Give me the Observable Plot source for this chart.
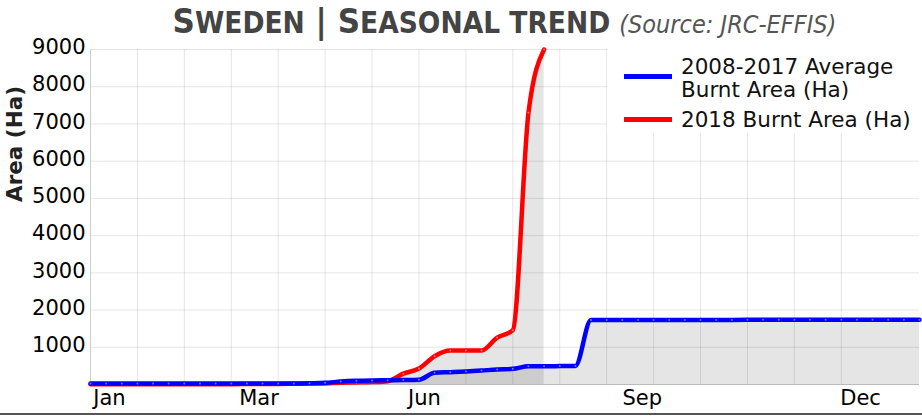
<!DOCTYPE html>
<html>
<head>
<meta charset="utf-8">
<script src="https://cdn.jsdelivr.net/npm/d3@7"></script>
<script src="https://cdn.jsdelivr.net/npm/@observablehq/plot@0.6"></script>
<style>
  html, body { margin: 0; padding: 0; background: #fff; }
  #wrap { position: relative; width: 922px; height: 413px; border-bottom: 2px solid #555; overflow: hidden; }
  #title { position: absolute; left: 90px; top: 1px; width: 829px; height: 40px; line-height: 40px; text-align: center; white-space: nowrap; color: #444; z-index: 2; }
  #title .main { font-family: "DejaVu Sans Condensed", "Liberation Sans Narrow", "DejaVu Sans", sans-serif; font-stretch: condensed; font-weight: bold; }
  #title .big { font-size: 34.5px; }
  #title .sc { font-size: 29.5px; }
  #title .src { font-family: "DejaVu Sans Condensed", "Liberation Sans Narrow", "DejaVu Sans", sans-serif; font-stretch: condensed; font-style: italic; font-size: 25px; color: #555; margin-left: 9px; }
  #chart { position: absolute; left: 0; top: 28px; }
  #legend { position: absolute; left: 607px; top: 49px; width: 313px; height: 84px; background: #fff; font-family: "DejaVu Sans", sans-serif; font-size: 21.5px; color: #111; }
  .sw { position: absolute; left: 17px; width: 48px; height: 5px; }
  .lt { position: absolute; left: 74px; line-height: 23px; white-space: nowrap; }
</style>
</head>
<body>
<div id="wrap">
  <div id="chart"></div>
  <div id="title"><span class="main"><span class="big">S</span><span class="sc">WEDEN</span><span class="big"> | S</span><span class="sc">EASONAL TREND</span></span><span class="src">(Source: JRC-EFFIS)</span></div>
  <div id="legend"></div>
</div>
<script>
// week index of each data point (weekly points through the year)
const weeks = [0,1,2,3,4,5,6,7,8,9,10,11,12,13,14,15,16,17,18,19,20,21,22,23,24,25,26,27,28,29,30,31,32,33,34,35,36,37,38,39,40,41,42,43,44,45,46,47,48,49,50,51,52,53];
// 2008-2017 average cumulative burnt area (Ha)
const avgArea = [30,30,30,30,30,30,30,30,30,30,30,30,30,30,35,45,80,100,110,115,120,128,315,331,350,376,403,420,491,491,495,500,1730,1732,1733,1734,1735,1735,1735,1736,1736,1736,1737,1737,1737,1737,1738,1738,1738,1738,1738,1738,1738,1738];
// 2018 cumulative burnt area (Ha)
const area2018 = [5,5,5,5,5,5,8,10,10,10,12,15,15,20,25,30,45,55,65,90,290,430,760,911,911,915,1260,1460,7300,9000];

const seriesNames = ["2008-2017 Average Burnt Area (Ha)", "2018 Burnt Area (Ha)"];
const seriesColors = ["#0000ff", "#ff0000"];

const monthLabels = ["Jan", "Mar", "Jun", "Sep", "Dec"];
const monthPos = [1.21, 10.77, 21.35, 35.27, 49.23];
const gridWeeks = [0,3,6,9,12,15,18,21,24,27,30,33,36,39,42,45,48];
const yGrid = [1000,2000,3000,4000,5000,6000,7000,8000,9000];
const yTicks = [1000,2000,3000,4000,5000,6000,7000,8000,9000];
const yLabel = "Area (Ha)";

const avgData = weeks.map((w, i) => ({week: w, area: avgArea[i]}));
const redData = area2018.map((a, i) => ({week: weeks[i], area: a}));
const labelByPos = new Map(monthPos.map((p, i) => [p, monthLabels[i]]));

const plot = Plot.plot({
  width: 922,
  height: 385,
  marginLeft: 90,
  marginRight: 3,
  marginTop: 21,
  marginBottom: 29,
  style: {fontFamily: "DejaVu Sans, sans-serif", fontSize: "21px", color: "#000", background: "transparent"},
  x: {domain: [0, 53], label: null},
  y: {domain: [0, 9000], label: null},
  marks: [
    Plot.gridX(gridWeeks, {stroke: "#000", strokeOpacity: 0.1, strokeWidth: 1}),
    Plot.gridY(yGrid, {stroke: "#000", strokeOpacity: 0.1, strokeWidth: 1}),
    Plot.areaY(redData, {x: "week", y: "area", curve: "monotone-x", fill: "#000", fillOpacity: 0.1}),
    Plot.areaY(avgData, {x: "week", y: "area", curve: "monotone-x", fill: "#000", fillOpacity: 0.1}),
    Plot.ruleY([0], {stroke: "#bbb", strokeWidth: 1}),
    Plot.ruleX([0], {stroke: "#ccc", strokeWidth: 1}),
    Plot.lineY(redData, {x: "week", y: "area", curve: "monotone-x", stroke: seriesColors[1], strokeWidth: 4.5}),
    Plot.dot(redData, {x: "week", y: "area", r: 1, fill: "#fff", fillOpacity: 0.45}),
    Plot.lineY(avgData, {x: "week", y: "area", curve: "monotone-x", stroke: seriesColors[0], strokeWidth: 4.5}),
    Plot.dot(avgData, {x: "week", y: "area", r: 1, fill: "#fff", fillOpacity: 0.45}),
    Plot.axisY(yTicks, {tickSize: 0, tickPadding: 5, dy: -2, fontSize: 21, tickFormat: d => String(d)}),
    Plot.axisX(monthPos, {tickSize: 0, tickPadding: 6, fontSize: 21, tickFormat: d => labelByPos.get(d)}),
    Plot.text([yLabel], {frameAnchor: "left", dx: -75, dy: -15, rotate: -90, fontWeight: "bold", fontSize: 21.5, fill: "#222"})
  ]
});
document.getElementById("chart").appendChild(plot);

// legend
const legend = document.getElementById("legend");
const rows = [
  {name: seriesNames[0], color: seriesColors[0], lines: ["2008-2017 Average", "Burnt Area (Ha)"], top: 5.5, sw: 24.5},
  {name: seriesNames[1], color: seriesColors[1], lines: ["2018 Burnt Area (Ha)"], top: 58.5, sw: 67.5}
];
for (const r of rows) {
  const sw = document.createElement("div");
  sw.className = "sw";
  sw.style.top = r.sw + "px";
  sw.style.background = r.color;
  legend.appendChild(sw);
  const t = document.createElement("div");
  t.className = "lt";
  t.style.top = r.top + "px";
  t.innerHTML = r.lines.join("<br>");
  legend.appendChild(t);
}
</script>
</body>
</html>
